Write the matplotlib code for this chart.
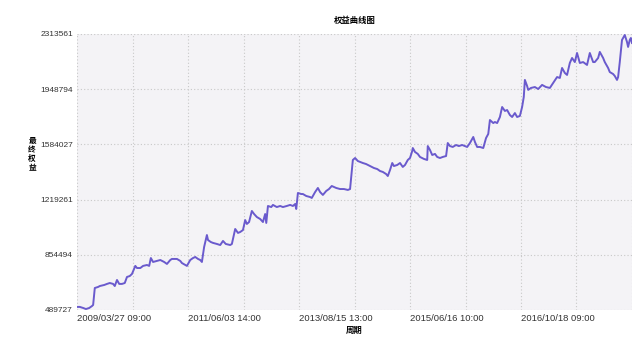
import matplotlib
matplotlib.use("Agg")
import matplotlib.pyplot as plt

plt.rcParams['font.family'] = ['Liberation Sans', 'Noto Sans CJK SC', 'DejaVu Sans']

# equity curve (x = bar index on a 0..1000 scale)
periods = [0, 5, 11, 16, 22, 27, 29, 32, 38, 41, 49, 54, 59, 65, 68, 72, 76, 81, 86, 90,
           95, 99, 105, 108, 114, 119, 126, 130, 133, 137, 144, 150, 157, 162, 168, 171, 180, 186, 189, 195,
           198, 204, 209, 213, 218, 222, 225, 229, 234, 236, 241, 245, 252, 258, 263, 268, 276, 279, 285, 290,
           294, 299, 303, 306, 310, 315, 319, 324, 330, 335, 339, 341, 344, 350, 353, 360, 366, 371, 378, 384,
           389, 393, 395, 398, 404, 407, 413, 420, 423, 429, 434, 438, 443, 449, 454, 459, 467, 474, 481, 488,
           492, 497, 501, 506, 510, 515, 521, 528, 535, 541, 546, 551, 557, 560, 564, 568, 571, 577, 582, 587,
           591, 596, 600, 604, 605, 609, 614, 618, 625, 631, 632, 636, 640, 645, 649, 654, 659, 665, 668, 672,
           677, 683, 688, 694, 699, 703, 708, 714, 717, 721, 726, 732, 737, 741, 744, 750, 753, 757, 762, 766,
           771, 775, 780, 784, 789, 793, 798, 802, 805, 807, 811, 813, 818, 825, 831, 838, 845, 852, 858, 865,
           870, 874, 879, 883, 888, 892, 897, 901, 906, 912, 919, 924, 930, 933, 939, 942, 948, 951, 957, 960,
           966, 969, 973, 975, 978, 982, 986, 987, 991, 993, 996, 998, 1000]

equity_k = [510, 510, 503, 496, 503, 516, 523, 635, 642, 648, 655, 662, 668, 662, 648, 688, 662, 662, 668, 708,
            714, 728, 781, 767, 767, 781, 787, 781, 833, 807, 814, 820, 807, 794, 820, 827, 827, 814, 800, 787,
            781, 820, 833, 840, 827, 820, 807, 906, 985, 952, 939, 933, 926, 919, 946, 926, 919, 926, 1025, 999,
            1005, 1018, 1084, 1058, 1071, 1144, 1124, 1104, 1091, 1071, 1124, 1065, 1177, 1170, 1184, 1170, 1177, 1170, 1177, 1184,
            1177, 1190, 1157, 1263, 1256, 1256, 1243, 1236, 1230, 1269, 1296, 1269, 1250, 1276, 1289, 1309, 1296, 1289, 1289, 1283,
            1289, 1481, 1494, 1474, 1468, 1461, 1454, 1441, 1428, 1421, 1408, 1402, 1388, 1375, 1415, 1461, 1441, 1448, 1461, 1435,
            1448, 1481, 1494, 1540, 1560, 1534, 1521, 1501, 1488, 1481, 1573, 1547, 1514, 1521, 1501, 1494, 1501, 1507, 1593, 1573,
            1567, 1580, 1573, 1580, 1573, 1567, 1593, 1633, 1600, 1567, 1567, 1560, 1626, 1653, 1745, 1725, 1732, 1725, 1765, 1831,
            1805, 1811, 1778, 1765, 1791, 1765, 1772, 1831, 1897, 2010, 1970, 1944, 1957, 1963, 1950, 1977, 1963, 1957, 1990, 2029,
            2023, 2089, 2056, 2043, 2122, 2155, 2128, 2188, 2122, 2128, 2109, 2188, 2128, 2128, 2155, 2195, 2155, 2128, 2089, 2062,
            2049, 2036, 2010, 2029, 2128, 2274, 2300, 2307, 2261, 2228, 2274, 2287, 2254]

assert len(periods) == len(equity_k)
equity = [v * 1000 for v in equity_k]

y_ticks = [489727, 854494, 1219261, 1584027, 1948794, 2313561]
x_tick_pos = [0, 200, 400, 600, 800]
x_tick_labels = ['2009/03/27 09:00', '2011/06/03 14:00', '2013/08/15 13:00',
                 '2015/06/16 10:00', '2016/10/18 09:00']

fig = plt.figure(figsize=(6.42, 3.57), dpi=100)
ax = fig.add_axes([0.12, 0.1317, 0.8644, 0.7731])
ax.set_facecolor('#f4f3f6')

ax.plot(periods, equity, color='#6a5acd', linewidth=1.4)

ax.set_xlim(0, 1000)
ax.set_ylim(y_ticks[0], y_ticks[-1])
ax.set_yticks(y_ticks)
ax.set_yticklabels([str(v) for v in y_ticks], fontsize=6, color='#333333')
ax.set_xticks(range(0, 1001, 100))
ax.set_xticklabels([''] * 11)
for pos, lab in zip(x_tick_pos, x_tick_labels):
    ax.text(pos, -0.015, lab, transform=ax.get_xaxis_transform(),
            ha='left', va='top', fontsize=6.8, color='#333333')

ax.tick_params(length=0, pad=3)
ax.grid(True, color='#c8c8c8', linestyle=(0, (1, 2)), linewidth=0.8)
for s in ax.spines.values():
    s.set_visible(False)

fig.text(0.5522, 0.944, '权益曲线图', ha='center', va='center', fontsize=6,
         fontweight='bold', family=['Noto Sans CJK SC'])
fig.text(0.5522, 0.073, '周期', ha='center', va='center', fontsize=6,
         fontweight='bold', family=['Noto Sans CJK SC'])
fig.text(0.05, 0.569, '最\n终\n权\n益', ha='center', va='center', fontsize=5.5,
         fontweight='bold', linespacing=1.0, family=['Noto Sans CJK SC'])

fig.savefig('out.png', dpi=100, facecolor='white')
